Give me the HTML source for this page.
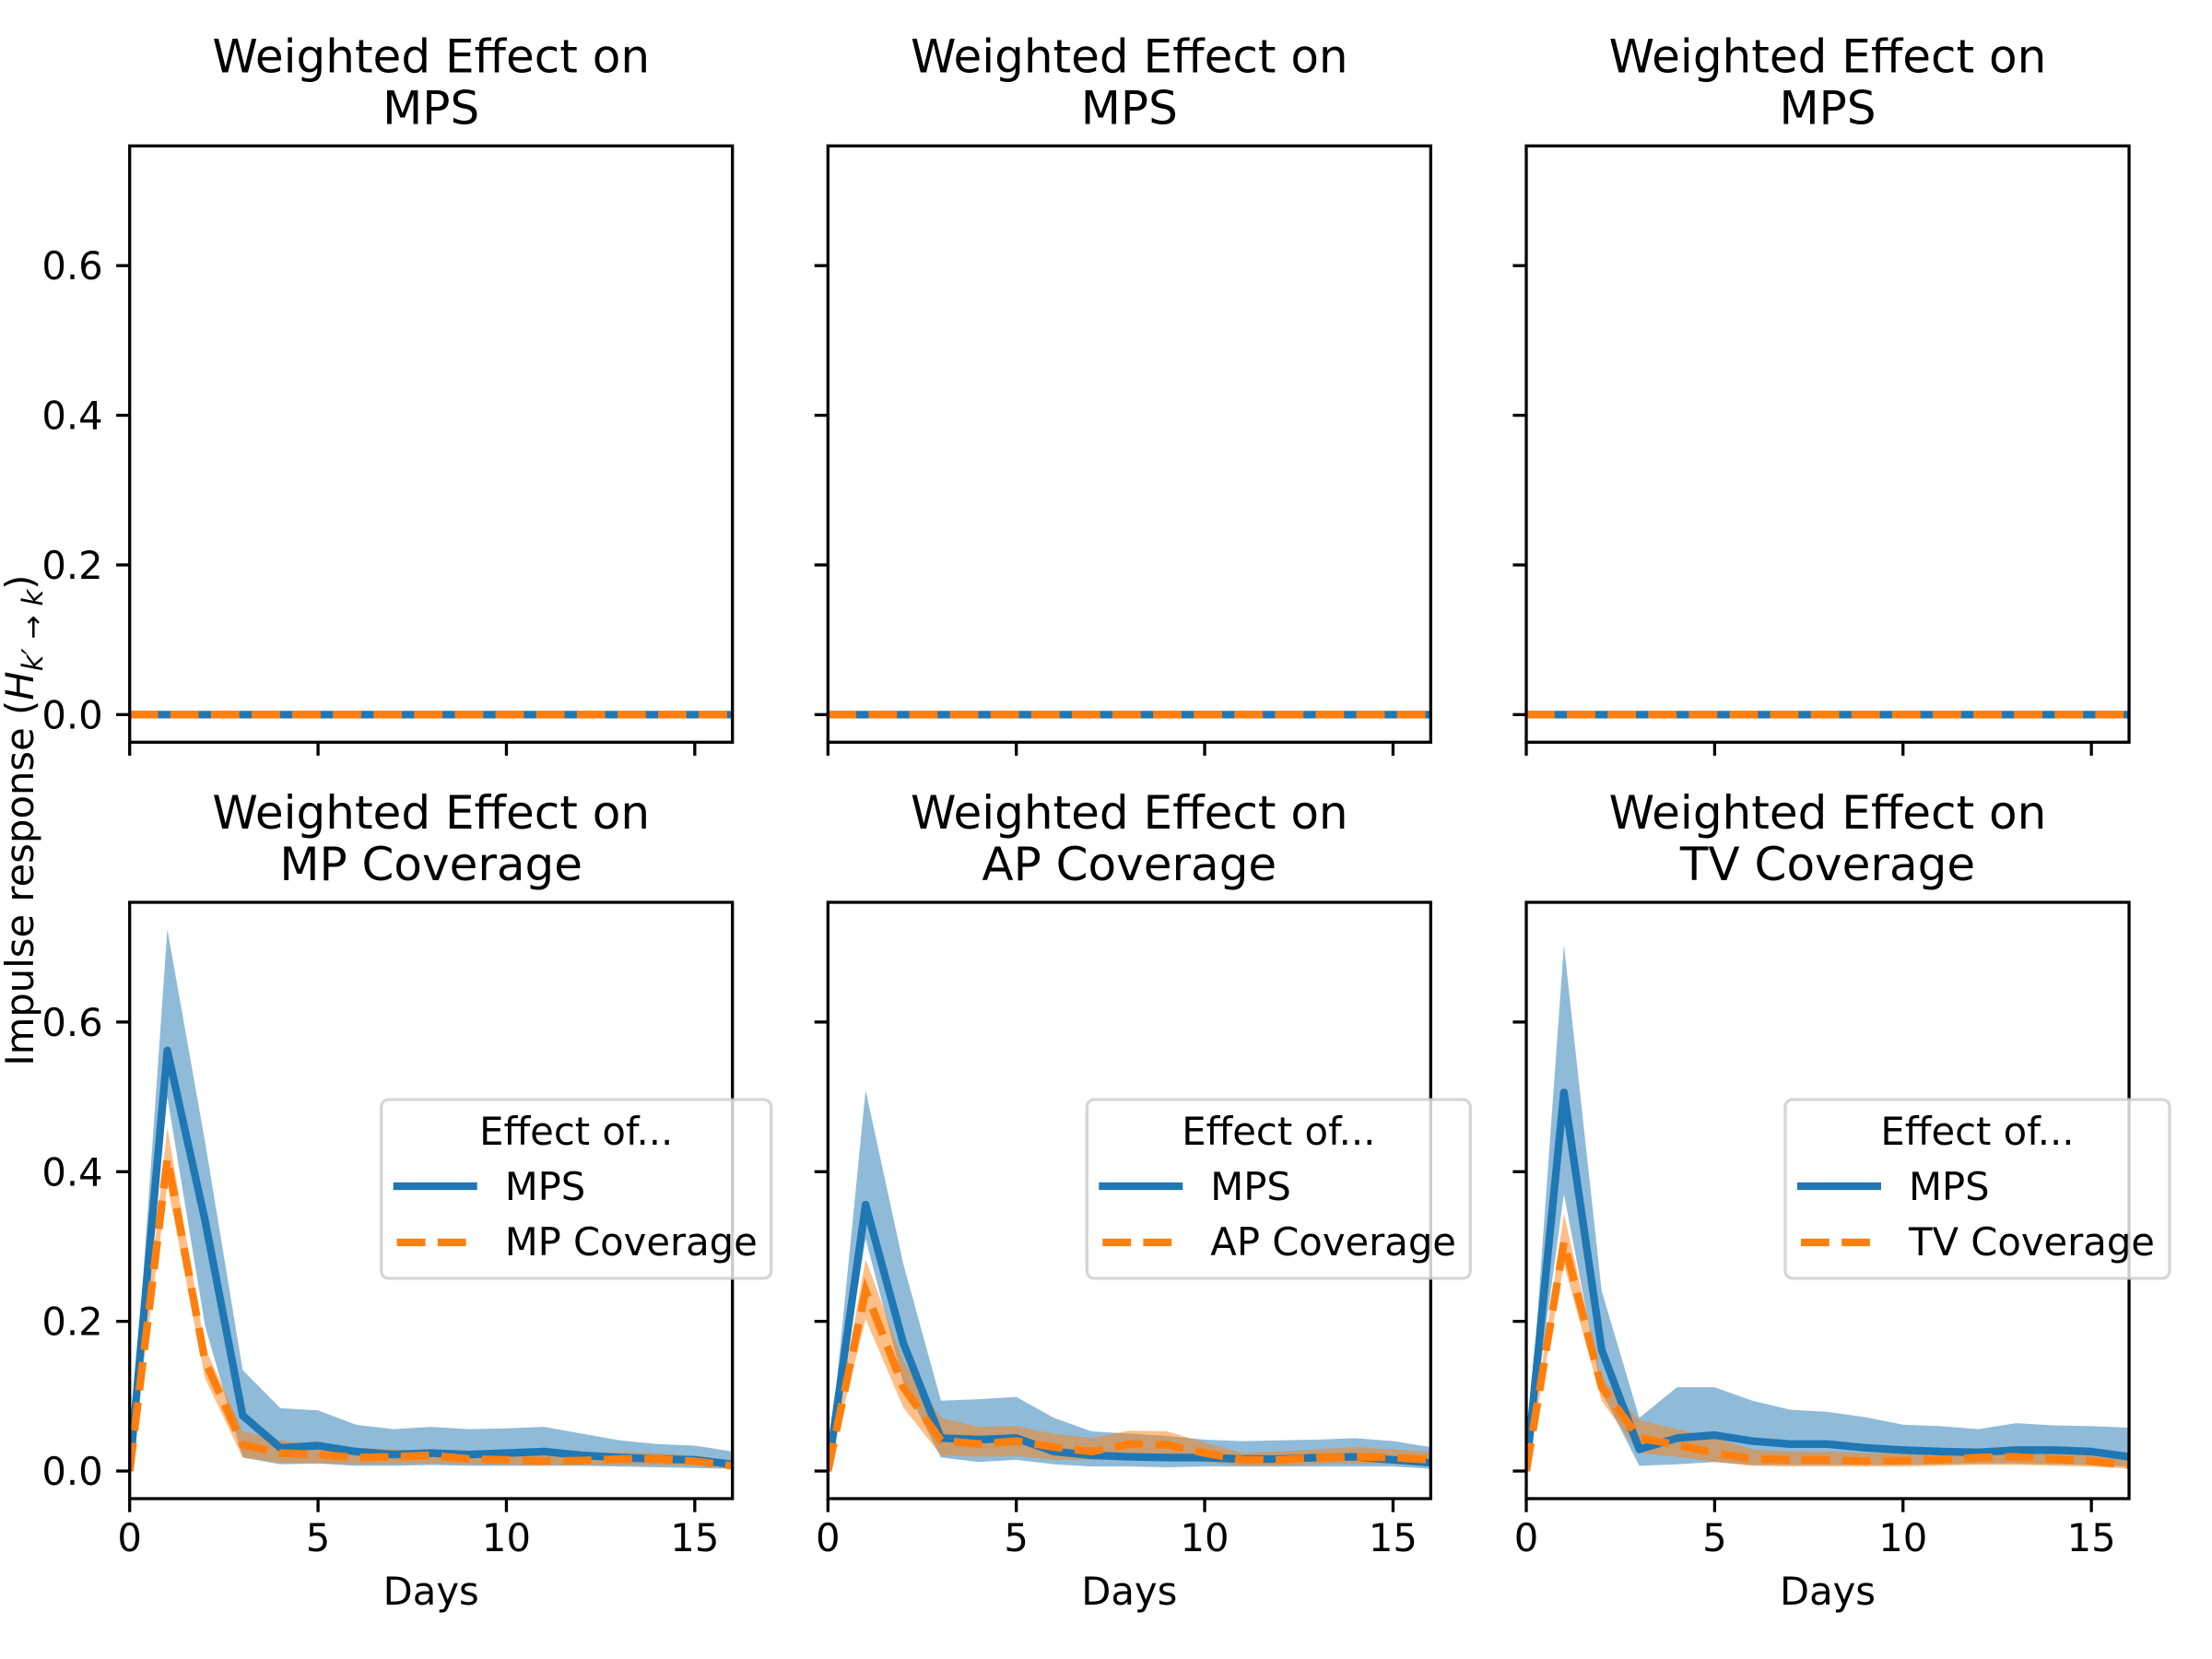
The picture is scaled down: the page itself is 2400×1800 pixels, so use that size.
<!DOCTYPE html>
<html><head><meta charset="utf-8"><style>
html,body{margin:0;padding:0;background:#fff;}
svg{display:block;font-family:"DejaVu Sans","Liberation Sans",sans-serif;}
</style></head><body>
<svg id="fig" width="2400" height="1800" viewBox="0 0 2400 1800" xmlns="http://www.w3.org/2000/svg">
<rect x="0" y="0" width="2400" height="1800" fill="#fff"/>
<text transform="translate(36,890) rotate(-90)" text-anchor="middle" font-size="41.7">Impulse response (<tspan font-style="italic">H</tspan><tspan font-style="italic" font-size="31" dy="10">k′ → k</tspan><tspan dy="-10">)</tspan></text>
</svg>
<script>
const days = [0,1,2,3,4,5,6,7,8,9,10,11,12,13,14,15,16];
const xTicks = [0,5,10,15];
const yTicks = [0.0,0.2,0.4,0.6];
const yTickLabels = ["0.0","0.2","0.4","0.6"];
const topTitles = ["MPS","MPS","MPS"];
const bottomTitles = ["MP Coverage","AP Coverage","TV Coverage"];
const legendLabels = ["MP Coverage","AP Coverage","TV Coverage"];
const zeros = [0,0,0,0,0,0,0,0,0,0,0,0,0,0,0,0,0];

// Panel 1 (MP Coverage)
const p1Mps = [0,0.562,0.335,0.074,0.031,0.034,0.026,0.022,0.024,0.022,0.024,0.026,0.021,0.018,0.016,0.015,0.009];
const p1MpsHi = [0,0.724,0.44,0.135,0.084,0.081,0.062,0.056,0.059,0.056,0.057,0.059,0.05,0.041,0.036,0.034,0.026];
const p1MpsLo = [0,0.5,0.194,0.018,0.009,0.01,0.007,0.007,0.008,0.007,0.007,0.007,0.007,0.006,0.005,0.004,0.003];
const p1Cov = [0,0.418,0.147,0.035,0.024,0.022,0.018,0.019,0.021,0.016,0.015,0.013,0.014,0.016,0.016,0.013,0.007];
const p1CovHi = [0,0.459,0.165,0.053,0.041,0.035,0.031,0.029,0.028,0.027,0.026,0.026,0.025,0.025,0.024,0.02,0.012];
const p1CovLo = [0,0.383,0.124,0.018,0.011,0.01,0.009,0.009,0.01,0.009,0.008,0.008,0.008,0.008,0.008,0.007,0.003];
// Panel 2 (AP Coverage)
const p2Mps = [0,0.356,0.171,0.044,0.042,0.044,0.026,0.021,0.019,0.018,0.018,0.016,0.016,0.018,0.019,0.015,0.011];
const p2MpsHi = [0,0.509,0.277,0.094,0.096,0.099,0.071,0.053,0.05,0.047,0.042,0.04,0.041,0.042,0.044,0.04,0.032];
const p2MpsLo = [0,0.31,0.118,0.018,0.012,0.015,0.009,0.006,0.006,0.005,0.006,0.006,0.006,0.006,0.006,0.006,0.003];
const p2Cov = [0,0.241,0.112,0.041,0.036,0.04,0.032,0.026,0.036,0.035,0.024,0.015,0.015,0.018,0.019,0.018,0.015];
const p2CovHi = [0,0.283,0.147,0.071,0.059,0.06,0.05,0.044,0.054,0.053,0.038,0.024,0.026,0.029,0.032,0.029,0.026];
const p2CovLo = [0,0.203,0.085,0.021,0.019,0.02,0.015,0.015,0.016,0.015,0.012,0.007,0.007,0.009,0.01,0.009,0.007];
// Panel 3 (TV Coverage)
const p3Mps = [0,0.506,0.162,0.029,0.044,0.048,0.04,0.036,0.036,0.031,0.028,0.026,0.025,0.028,0.028,0.026,0.019];
const p3MpsHi = [0,0.703,0.241,0.071,0.112,0.112,0.094,0.082,0.079,0.072,0.062,0.06,0.056,0.064,0.061,0.06,0.058];
const p3MpsLo = [0,0.37,0.106,0.007,0.009,0.012,0.008,0.008,0.008,0.008,0.008,0.009,0.01,0.01,0.009,0.008,0.006];
const p3Cov = [0,0.306,0.112,0.044,0.035,0.024,0.016,0.015,0.015,0.013,0.014,0.015,0.018,0.019,0.016,0.013,0.008];
const p3CovHi = [0,0.344,0.124,0.068,0.056,0.044,0.029,0.026,0.026,0.024,0.024,0.025,0.026,0.028,0.025,0.021,0.015];
const p3CovLo = [0,0.276,0.094,0.024,0.019,0.012,0.007,0.006,0.006,0.006,0.006,0.007,0.008,0.008,0.007,0.006,0.003];

const NS = "http://www.w3.org/2000/svg";
const svg = document.getElementById('fig');
const colLeft = [140.7, 898.3, 1656];
const rowTop = [158.3, 979];
const W = 654, H = 647;
const yMin = -0.0369, yMax = 0.760, xMin = 0, xMax = 16;
const BLUE = "#1f77b4", ORANGE = "#ff7f0e";

function mk(tag, attrs, parent) {
  const e = document.createElementNS(NS, tag);
  for (const k in attrs) e.setAttribute(k, attrs[k]);
  (parent || svg).appendChild(e);
  return e;
}
function xs(c, v) { return colLeft[c] + (v - xMin) / (xMax - xMin) * W; }
function ys(r, v) { return rowTop[r] + H - (v - yMin) / (yMax - yMin) * H; }
function linePts(c, r, vals) { return days.map((d, i) => xs(c, d).toFixed(2) + "," + ys(r, vals[i]).toFixed(2)).join(" "); }
function bandPts(c, r, lo, hi) {
  const up = days.map((d, i) => xs(c, d).toFixed(2) + "," + ys(r, hi[i]).toFixed(2));
  const dn = days.map((d, i) => xs(c, d).toFixed(2) + "," + ys(r, lo[i]).toFixed(2)).reverse();
  return up.concat(dn).join(" ");
}

const panels = [
  [[zeros,zeros,zeros,zeros,zeros,zeros],[zeros,zeros,zeros,zeros,zeros,zeros],[zeros,zeros,zeros,zeros,zeros,zeros]],
  [[p1Mps,p1MpsLo,p1MpsHi,p1Cov,p1CovLo,p1CovHi],[p2Mps,p2MpsLo,p2MpsHi,p2Cov,p2CovLo,p2CovHi],[p3Mps,p3MpsLo,p3MpsHi,p3Cov,p3CovLo,p3CovHi]]
];
const legendOffset = [273, 281, 281];
const legendWidth = [423, 416, 417];

for (let r = 0; r < 2; r++) {
  for (let c = 0; c < 3; c++) {
    const g = mk('g', {});
    
    
    const clipId = 'clip' + r + c;
    const cp = mk('clipPath', {id: clipId}, g);
    mk('rect', {x: colLeft[c], y: rowTop[r], width: W, height: H}, cp);
    const plot = mk('g', {'clip-path': 'url(#' + clipId + ')'}, g);
    const d = panels[r][c];
    const bb = mk('polygon', {points: bandPts(c, r, d[1], d[2]), fill: BLUE, 'fill-opacity': 0.5, stroke: 'none'}, plot);
    
    
    const ob = mk('polygon', {points: bandPts(c, r, d[4], d[5]), fill: ORANGE, 'fill-opacity': 0.5, stroke: 'none'}, plot);
    
    
    const bl = mk('polyline', {points: linePts(c, r, d[0]), fill: 'none', stroke: BLUE, 'stroke-width': 8.3, 'stroke-linejoin': 'round'}, plot);
    
    
    const ol = mk('polyline', {points: linePts(c, r, d[3]), fill: 'none', stroke: ORANGE, 'stroke-width': 8.3, 'stroke-dasharray': '30.8 13.3'}, plot);
    
    

    const sp = mk('rect', {x: colLeft[c], y: rowTop[r], width: W, height: H, fill: 'none', stroke: '#000', 'stroke-width': 3.3}, g);
    
    

    yTicks.forEach((t, i) => {
      const y = ys(r, t);
      const tk = mk('line', {x1: colLeft[c] - 14.6, x2: colLeft[c], y1: y, y2: y, stroke: '#000', 'stroke-width': 3.3}, g);
      
      
      if (c === 0) {
        const tl = mk('text', {x: colLeft[c] - 29, y: y + 15, 'text-anchor': 'end', 'font-size': 41.7}, g);
        
        
        tl.textContent = yTickLabels[i];
      }
    });
    xTicks.forEach(t => {
      const x = xs(c, t);
      const yb = rowTop[r] + H;
      const tk = mk('line', {x1: x, x2: x, y1: yb, y2: yb + 14.6, stroke: '#000', 'stroke-width': 3.3}, g);
      
      
      if (r === 1) {
        const tl = mk('text', {x: x, y: yb + 57, 'text-anchor': 'middle', 'font-size': 41.7}, g);
        
        
        tl.textContent = String(t);
      }
    });
    if (r === 1) {
      const xl = mk('text', {x: colLeft[c] + W / 2, y: 1741, 'text-anchor': 'middle', 'font-size': 41.7}, g);
      
      
      xl.textContent = 'Days';
    }
    const cx = colLeft[c] + W / 2;
    const t1 = mk('text', {x: cx, y: rowTop[r] - 80, 'text-anchor': 'middle', 'font-size': 50}, g);
    
    
    t1.textContent = 'Weighted Effect on';
    const t2 = mk('text', {x: cx, y: rowTop[r] - 24, 'text-anchor': 'middle', 'font-size': 50}, g);
    
    
    t2.textContent = r === 0 ? topTitles[c] : bottomTitles[c];

    if (r === 1) {
      const lx = colLeft[c] + legendOffset[c], ly = 1193, lw = legendWidth[c], lh = 194;
      const lg = mk('g', {}, g);
      
      
      mk('rect', {x: lx, y: ly, width: lw, height: lh, rx: 8, ry: 8, fill: '#fff', 'fill-opacity': 0.8, stroke: '#cccccc', 'stroke-opacity': 0.8, 'stroke-width': 3.3}, lg);
      const lt = mk('text', {x: lx + lw / 2, y: 1242, 'text-anchor': 'middle', 'font-size': 41.7}, lg);
      
      
      lt.textContent = 'Effect of...';
      const e1 = mk('g', {}, lg);
      
      
      mk('line', {x1: lx + 13, x2: lx + 104, y1: 1287, y2: 1287, stroke: BLUE, 'stroke-width': 8.3}, e1);
      const e1t = mk('text', {x: lx + 134, y: 1302, 'font-size': 41.7}, e1);
      e1t.textContent = 'MPS';
      const e2 = mk('g', {}, lg);
      
      
      mk('line', {x1: lx + 17, x2: lx + 104, y1: 1348, y2: 1348, stroke: ORANGE, 'stroke-width': 8.3, 'stroke-dasharray': '30.8 13.3'}, e2);
      const e2t = mk('text', {x: lx + 134, y: 1362, 'font-size': 41.7}, e2);
      e2t.textContent = legendLabels[c];
    }
  }
}
</script>
</body></html>
